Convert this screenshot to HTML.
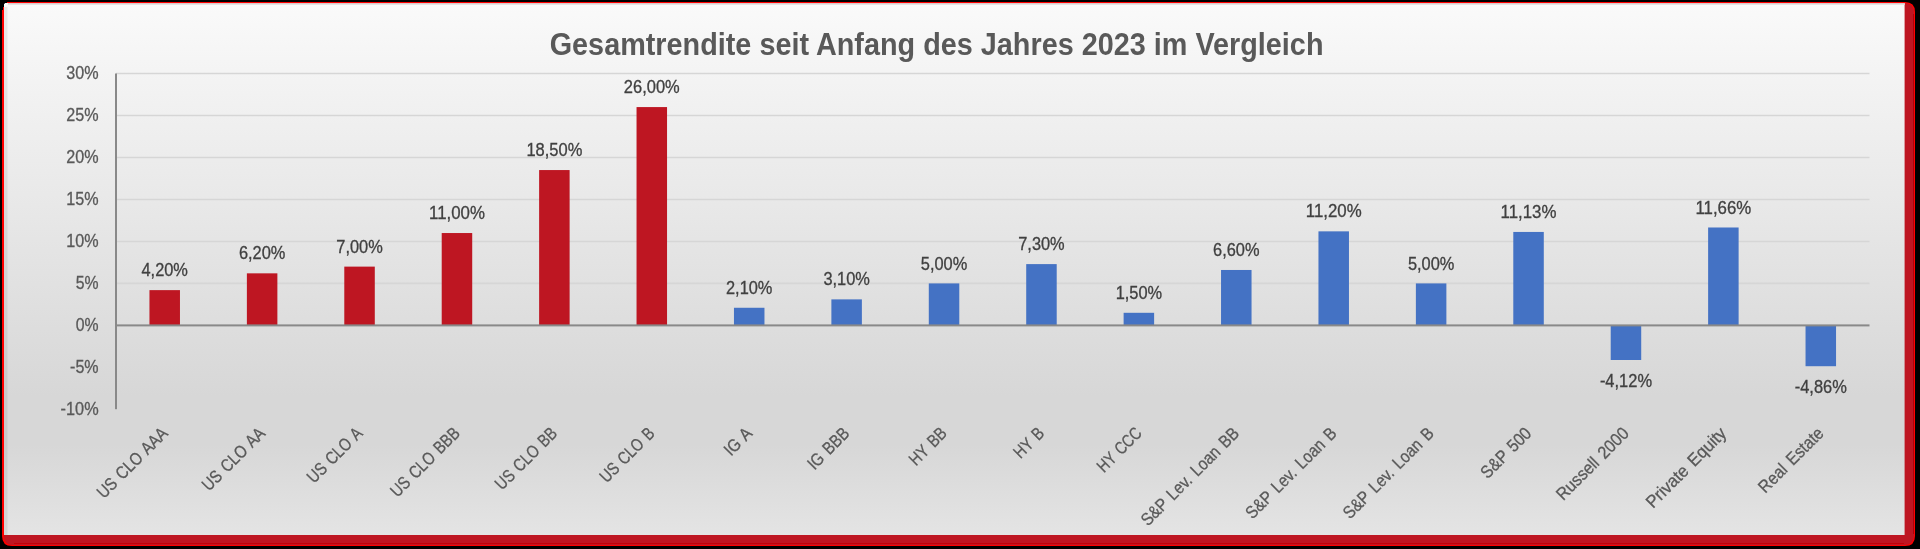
<!DOCTYPE html>
<html><head><meta charset="utf-8"><style>
html,body{margin:0;padding:0;background:#000;width:1920px;height:549px;overflow:hidden}
svg{display:block;will-change:transform}
text{font-family:"Liberation Sans",sans-serif}
.yl{font-size:17.6px;fill:#595959;stroke:#595959;stroke-width:0.3px}
.dl{font-size:17.6px;fill:#404040;stroke:#404040;stroke-width:0.3px}
.xl{font-size:17.6px;fill:#595959;stroke:#595959;stroke-width:0.3px;word-spacing:2px}
.ti{font-size:31px;font-weight:bold;fill:#595959}
</style></head><body>
<svg width="1920" height="549" viewBox="0 0 1920 549">
<defs>
<linearGradient id="bg" x1="0" y1="0" x2="0" y2="1">
<stop offset="0" stop-color="#FAFAFA"/>
<stop offset="0.74" stop-color="#D7D7D7"/>
<stop offset="0.83" stop-color="#D7D7D7"/>
<stop offset="1" stop-color="#E4E4E4"/>
</linearGradient>
</defs>
<rect x="0" y="0" width="1920" height="549" fill="#000"/>
<path d="M7,2 H1905 Q1915,2 1915,12 V536 Q1915,546 1905,546 H12 Q2,546 2,536 V10 H3 V7 H4 V3 H7 Z" fill="#FF0000"/>
<path d="M6,3 H1904 Q1914,3 1914,13 V535 Q1914,545 1904,545 H13 Q4,545 4,536 V5 Z" fill="#BE1622"/>
<rect x="1913" y="14" width="1" height="520" fill="#A80008" opacity="0.85"/>
<rect x="14" y="543" width="1890" height="1" fill="#C00008" opacity="0.9"/>
<path d="M4,3 H1904.6 V535 H4 Z" fill="url(#bg)"/>
<rect x="4" y="3" width="1" height="1" fill="#000" opacity="0.7"/><rect x="5" y="3" width="2" height="2" fill="#FFFFFF" opacity="0.8"/><rect x="4" y="4" width="2" height="3" fill="#FFFFFF" opacity="0.8"/>
<rect x="8" y="3" width="1896.6" height="1" fill="#DCCBCB"/>
<rect x="8" y="4" width="1896.6" height="1" fill="#E4E4E4"/>
<rect x="4" y="7" width="3" height="528" fill="#000" opacity="0.065"/>
<rect x="7" y="7" width="1" height="528" fill="#000" opacity="0.03"/>
<text x="936.6" y="55.1" text-anchor="middle" class="ti" textLength="773.8" lengthAdjust="spacingAndGlyphs">Gesamtrendite seit Anfang des Jahres 2023 im Vergleich</text>
<line x1="116.0" x2="1869.5" y1="283.41" y2="283.41" stroke="#D6D6D6" stroke-width="1.6"/>
<line x1="116.0" x2="1869.5" y1="241.43" y2="241.43" stroke="#D6D6D6" stroke-width="1.6"/>
<line x1="116.0" x2="1869.5" y1="199.44" y2="199.44" stroke="#D6D6D6" stroke-width="1.6"/>
<line x1="116.0" x2="1869.5" y1="157.46" y2="157.46" stroke="#D6D6D6" stroke-width="1.6"/>
<line x1="116.0" x2="1869.5" y1="115.47" y2="115.47" stroke="#D6D6D6" stroke-width="1.6"/>
<line x1="116.0" x2="1869.5" y1="73.49" y2="73.49" stroke="#D6D6D6" stroke-width="1.6"/>
<text x="98.6" y="414.87" text-anchor="end" class="yl" textLength="37.99" lengthAdjust="spacingAndGlyphs">-10%</text>
<text x="98.6" y="372.88" text-anchor="end" class="yl" textLength="28.53" lengthAdjust="spacingAndGlyphs">-5%</text>
<text x="98.6" y="330.90" text-anchor="end" class="yl" textLength="22.81" lengthAdjust="spacingAndGlyphs">0%</text>
<text x="98.6" y="288.91" text-anchor="end" class="yl" textLength="22.81" lengthAdjust="spacingAndGlyphs">5%</text>
<text x="98.6" y="246.93" text-anchor="end" class="yl" textLength="32.28" lengthAdjust="spacingAndGlyphs">10%</text>
<text x="98.6" y="204.94" text-anchor="end" class="yl" textLength="32.28" lengthAdjust="spacingAndGlyphs">15%</text>
<text x="98.6" y="162.96" text-anchor="end" class="yl" textLength="32.28" lengthAdjust="spacingAndGlyphs">20%</text>
<text x="98.6" y="120.97" text-anchor="end" class="yl" textLength="32.28" lengthAdjust="spacingAndGlyphs">25%</text>
<text x="98.6" y="78.99" text-anchor="end" class="yl" textLength="32.28" lengthAdjust="spacingAndGlyphs">30%</text>
<rect x="149.46" y="290.13" width="30.5" height="35.27" fill="#BE1622"/>
<text x="164.71" y="276.23" text-anchor="middle" class="dl" textLength="46.41" lengthAdjust="spacingAndGlyphs">4,20%</text>
<text transform="translate(159.71,425.5) rotate(-45)" x="0" y="0" dy="0.72em" text-anchor="end" class="xl" textLength="91.65" lengthAdjust="spacingAndGlyphs">US CLO AAA</text>
<rect x="246.88" y="273.34" width="30.5" height="52.06" fill="#BE1622"/>
<text x="262.12" y="259.44" text-anchor="middle" class="dl" textLength="46.41" lengthAdjust="spacingAndGlyphs">6,20%</text>
<text transform="translate(257.12,425.5) rotate(-45)" x="0" y="0" dy="0.72em" text-anchor="end" class="xl" textLength="80.84" lengthAdjust="spacingAndGlyphs">US CLO AA</text>
<rect x="344.29" y="266.62" width="30.5" height="58.78" fill="#BE1622"/>
<text x="359.54" y="252.72" text-anchor="middle" class="dl" textLength="46.41" lengthAdjust="spacingAndGlyphs">7,00%</text>
<text transform="translate(354.54,425.5) rotate(-45)" x="0" y="0" dy="0.72em" text-anchor="end" class="xl" textLength="70.03" lengthAdjust="spacingAndGlyphs">US CLO A</text>
<rect x="441.71" y="233.03" width="30.5" height="92.37" fill="#BE1622"/>
<text x="456.96" y="219.13" text-anchor="middle" class="dl" textLength="55.88" lengthAdjust="spacingAndGlyphs">11,00%</text>
<text transform="translate(451.96,425.5) rotate(-45)" x="0" y="0" dy="0.72em" text-anchor="end" class="xl" textLength="89.69" lengthAdjust="spacingAndGlyphs">US CLO BBB</text>
<rect x="539.12" y="170.06" width="30.5" height="155.34" fill="#BE1622"/>
<text x="554.38" y="156.16" text-anchor="middle" class="dl" textLength="55.88" lengthAdjust="spacingAndGlyphs">18,50%</text>
<text transform="translate(549.38,425.5) rotate(-45)" x="0" y="0" dy="0.72em" text-anchor="end" class="xl" textLength="79.53" lengthAdjust="spacingAndGlyphs">US CLO BB</text>
<rect x="636.54" y="107.08" width="30.5" height="218.32" fill="#BE1622"/>
<text x="651.79" y="93.18" text-anchor="middle" class="dl" textLength="55.88" lengthAdjust="spacingAndGlyphs">26,00%</text>
<text transform="translate(646.79,425.5) rotate(-45)" x="0" y="0" dy="0.72em" text-anchor="end" class="xl" textLength="69.38" lengthAdjust="spacingAndGlyphs">US CLO B</text>
<rect x="733.96" y="307.77" width="30.5" height="17.63" fill="#4472C4"/>
<text x="749.21" y="293.87" text-anchor="middle" class="dl" textLength="46.41" lengthAdjust="spacingAndGlyphs">2,10%</text>
<text transform="translate(744.21,425.5) rotate(-45)" x="0" y="0" dy="0.72em" text-anchor="end" class="xl" textLength="31.51" lengthAdjust="spacingAndGlyphs">IG A</text>
<rect x="831.38" y="299.37" width="30.5" height="26.03" fill="#4472C4"/>
<text x="846.62" y="285.47" text-anchor="middle" class="dl" textLength="46.41" lengthAdjust="spacingAndGlyphs">3,10%</text>
<text transform="translate(841.62,425.5) rotate(-45)" x="0" y="0" dy="0.72em" text-anchor="end" class="xl" textLength="51.17" lengthAdjust="spacingAndGlyphs">IG BBB</text>
<rect x="928.79" y="283.41" width="30.5" height="41.98" fill="#4472C4"/>
<text x="944.04" y="269.51" text-anchor="middle" class="dl" textLength="46.41" lengthAdjust="spacingAndGlyphs">5,00%</text>
<text transform="translate(939.04,425.5) rotate(-45)" x="0" y="0" dy="0.72em" text-anchor="end" class="xl" textLength="45.26" lengthAdjust="spacingAndGlyphs">HY BB</text>
<rect x="1026.21" y="264.10" width="30.5" height="61.30" fill="#4472C4"/>
<text x="1041.46" y="250.20" text-anchor="middle" class="dl" textLength="46.41" lengthAdjust="spacingAndGlyphs">7,30%</text>
<text transform="translate(1036.46,425.5) rotate(-45)" x="0" y="0" dy="0.72em" text-anchor="end" class="xl" textLength="35.10" lengthAdjust="spacingAndGlyphs">HY B</text>
<rect x="1123.62" y="312.80" width="30.5" height="12.60" fill="#4472C4"/>
<text x="1138.88" y="298.90" text-anchor="middle" class="dl" textLength="46.41" lengthAdjust="spacingAndGlyphs">1,50%</text>
<text transform="translate(1133.88,425.5) rotate(-45)" x="0" y="0" dy="0.72em" text-anchor="end" class="xl" textLength="54.80" lengthAdjust="spacingAndGlyphs">HY CCC</text>
<rect x="1221.04" y="269.98" width="30.5" height="55.42" fill="#4472C4"/>
<text x="1236.29" y="256.08" text-anchor="middle" class="dl" textLength="46.41" lengthAdjust="spacingAndGlyphs">6,60%</text>
<text transform="translate(1231.29,425.5) rotate(-45)" x="0" y="0" dy="0.72em" text-anchor="end" class="xl" textLength="130.63" lengthAdjust="spacingAndGlyphs">S&amp;P Lev. Loan BB</text>
<rect x="1318.46" y="231.35" width="30.5" height="94.05" fill="#4472C4"/>
<text x="1333.71" y="217.45" text-anchor="middle" class="dl" textLength="55.88" lengthAdjust="spacingAndGlyphs">11,20%</text>
<text transform="translate(1328.71,425.5) rotate(-45)" x="0" y="0" dy="0.72em" text-anchor="end" class="xl" textLength="120.48" lengthAdjust="spacingAndGlyphs">S&amp;P Lev. Loan B</text>
<rect x="1415.88" y="283.41" width="30.5" height="41.98" fill="#4472C4"/>
<text x="1431.12" y="269.51" text-anchor="middle" class="dl" textLength="46.41" lengthAdjust="spacingAndGlyphs">5,00%</text>
<text transform="translate(1426.12,425.5) rotate(-45)" x="0" y="0" dy="0.72em" text-anchor="end" class="xl" textLength="120.48" lengthAdjust="spacingAndGlyphs">S&amp;P Lev. Loan B</text>
<rect x="1513.29" y="231.94" width="30.5" height="93.46" fill="#4472C4"/>
<text x="1528.54" y="218.04" text-anchor="middle" class="dl" textLength="55.88" lengthAdjust="spacingAndGlyphs">11,13%</text>
<text transform="translate(1523.54,425.5) rotate(-45)" x="0" y="0" dy="0.72em" text-anchor="end" class="xl" textLength="63.57" lengthAdjust="spacingAndGlyphs">S&amp;P 500</text>
<rect x="1610.71" y="325.40" width="30.5" height="34.60" fill="#4472C4"/>
<text x="1625.96" y="386.70" text-anchor="middle" class="dl" textLength="52.13" lengthAdjust="spacingAndGlyphs">-4,12%</text>
<text transform="translate(1620.96,425.5) rotate(-45)" x="0" y="0" dy="0.72em" text-anchor="end" class="xl" textLength="94.47" lengthAdjust="spacingAndGlyphs">Russell 2000</text>
<rect x="1708.12" y="227.49" width="30.5" height="97.91" fill="#4472C4"/>
<text x="1723.38" y="213.59" text-anchor="middle" class="dl" textLength="55.88" lengthAdjust="spacingAndGlyphs">11,66%</text>
<text transform="translate(1718.38,425.5) rotate(-45)" x="0" y="0" dy="0.72em" text-anchor="end" class="xl" textLength="105.30" lengthAdjust="spacingAndGlyphs">Private Equity</text>
<rect x="1805.54" y="325.40" width="30.5" height="40.81" fill="#4472C4"/>
<text x="1820.79" y="392.91" text-anchor="middle" class="dl" textLength="52.13" lengthAdjust="spacingAndGlyphs">-4,86%</text>
<text transform="translate(1815.79,425.5) rotate(-45)" x="0" y="0" dy="0.72em" text-anchor="end" class="xl" textLength="84.03" lengthAdjust="spacingAndGlyphs">Real Estate</text>
<rect x="115" y="73.5" width="2" height="335.7" fill="#898989"/>
<rect x="116.0" y="324.40" width="1753.5" height="2" fill="#898989"/>
</svg>
</body></html>
